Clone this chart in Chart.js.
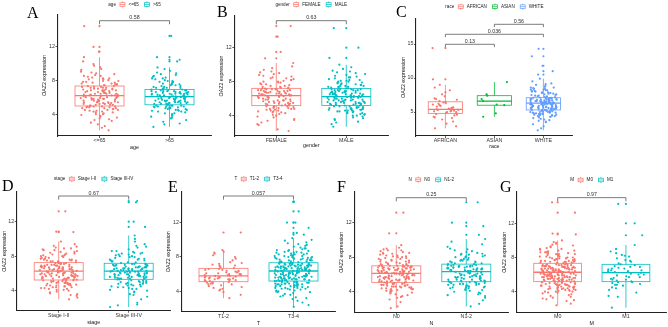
<!DOCTYPE html>
<html><head><meta charset="utf-8">
<script src="https://cdn.jsdelivr.net/npm/chart.js@4.4.1/dist/chart.umd.min.js"></script>
<style>
html,body{margin:0;padding:0;background:#fff;}
#wrap{position:relative;width:668px;height:327px;overflow:hidden;background:#fff;}
canvas{position:absolute;left:0;top:0;}
</style></head><body><div id="wrap"></div>
<script>
// ---------------- DATA ----------------
const yTicks = [4, 8, 12];
const raceYTicks = [5, 10, 15];

const ageCats = ['<=65', '>65'];
const ageLow = [2.2,2.5,2.9,3.1,3.3,3.5,3.6,3.8,3.9,4.0,4.1,4.2,4.3,4.3,4.4,4.5,4.5,4.6,4.6,4.7,4.7,4.8,4.8,4.8,4.9,4.9,4.9,5.0,5.0,5.0,5.0,3.4,4.1,4.4,4.6,2.7,3.7,
5.1,5.1,5.2,5.2,5.3,5.3,5.3,5.4,5.4,5.5,5.5,5.5,5.6,5.6,5.7,5.7,5.7,5.8,5.8,5.9,5.9,5.9,6.0,6.0,6.0,6.1,6.1,6.1,6.2,6.2,6.2,5.2,5.4,5.6,5.8,6.0,5.5,5.9,
6.3,6.3,6.4,6.4,6.4,6.5,6.5,6.5,6.6,6.6,6.7,6.7,6.7,6.8,6.8,6.9,6.9,6.9,7.0,7.0,7.1,7.1,7.1,7.2,7.2,7.3,7.3,7.4,7.4,6.3,6.6,6.8,7.0,7.2,6.5,6.9,7.3,
7.5,7.5,7.6,7.6,7.7,7.7,7.8,7.8,7.9,8.0,8.0,8.1,8.2,8.3,8.3,8.4,8.5,8.6,8.7,8.8,8.9,9.0,9.1,9.3,9.4,9.6,9.8,10.0,10.3,10.8,7.6,7.9,8.2,8.6,
11.45,12.0,14.45];
const ageHigh = [2.6,2.9,3.2,3.4,3.6,3.7,3.9,4.0,4.1,4.2,4.3,4.4,4.4,4.5,4.6,4.6,4.7,4.7,4.8,4.8,4.9,4.9,5.0,5.0,5.0,5.1,5.1,5.1,3.0,3.8,4.2,4.5,4.8,5.0,4.6,4.9,5.1,
5.2,5.2,5.3,5.3,5.3,5.4,5.4,5.4,5.5,5.5,5.5,5.6,5.6,5.6,5.7,5.7,5.7,5.8,5.8,5.8,5.9,5.9,5.9,6.0,6.0,6.0,6.1,6.1,6.1,5.3,5.5,5.7,5.9,6.0,5.4,5.6,5.8,6.1,
6.2,6.2,6.2,6.3,6.3,6.3,6.4,6.4,6.4,6.5,6.5,6.5,6.6,6.6,6.6,6.7,6.7,6.7,6.8,6.8,6.8,6.9,6.9,6.9,7.0,7.0,6.3,6.5,6.7,6.9,6.4,6.6,6.8,6.2,6.5,6.9,7.0,
7.1,7.1,7.2,7.2,7.3,7.3,7.4,7.5,7.5,7.6,7.7,7.8,7.9,8.0,8.1,8.2,8.3,8.4,8.5,8.6,8.8,8.9,9.0,9.2,9.4,9.6,7.2,7.4,7.7,8.0,8.3,8.7,7.6,7.9,
10.3,10.5,10.8,13.3];
const ageStats = [[2.2,5.06,6.27,7.41,10.8],[2.6,5.2,6.15,7.0,9.6]];
const agePv = ['0.58'];

const genderCats = ['FEMALE', 'MALE'];
const female = [2.2,2.4,2.9,3.2,3.4,3.6,3.8,3.9,4.0,4.2,4.3,4.4,4.5,4.5,4.6,4.7,4.7,4.8,4.8,4.9,4.9,5.0,5.0,5.1,5.1,3.5,4.1,4.6,4.9,5.1,4.4,4.8,3.0,
5.2,5.2,5.3,5.3,5.4,5.4,5.5,5.5,5.6,5.6,5.7,5.7,5.8,5.8,5.9,5.9,6.0,6.0,6.1,6.1,6.2,6.2,6.3,6.3,5.3,5.5,5.7,5.9,6.1,6.3,5.4,5.8,6.2,
6.4,6.4,6.4,6.5,6.5,6.6,6.6,6.7,6.7,6.8,6.8,6.9,6.9,7.0,7.0,7.1,7.1,7.2,7.2,6.5,6.7,6.9,7.1,6.4,6.6,6.8,7.0,7.2,6.6,6.9,7.1,6.5,6.8,
7.3,7.3,7.4,7.5,7.6,7.7,7.8,7.9,8.0,8.1,8.2,8.3,8.4,8.5,8.6,8.7,8.9,9.0,9.2,9.4,9.6,9.8,10.2,7.4,7.7,8.0,8.4,8.8,7.5,8.2,9.1,7.9,
10.75,11.5,13.3,14.55];
const male = [2.7,3.0,3.3,3.5,3.6,3.8,3.9,4.0,4.1,4.2,4.3,4.3,4.4,4.5,4.5,4.6,4.6,4.7,4.7,4.8,4.8,4.9,4.9,5.0,5.0,5.1,5.1,3.7,4.2,4.6,4.9,5.1,4.4,4.8,3.2,4.0,4.7,5.0,4.5,4.9,
5.2,5.2,5.3,5.3,5.3,5.4,5.4,5.5,5.5,5.5,5.6,5.6,5.7,5.7,5.8,5.8,5.8,5.9,5.9,6.0,6.0,6.1,6.1,6.2,6.2,5.3,5.5,5.7,5.9,6.1,5.4,5.6,5.8,6.0,6.2,5.5,5.9,6.1,5.6,
6.3,6.3,6.3,6.4,6.4,6.5,6.5,6.5,6.6,6.6,6.7,6.7,6.7,6.8,6.8,6.9,6.9,7.0,7.0,7.1,7.1,7.2,7.2,6.4,6.6,6.8,7.0,6.3,6.5,6.7,6.9,7.1,6.4,6.6,6.8,7.0,6.5,6.9,7.1,
7.3,7.3,7.4,7.4,7.5,7.5,7.6,7.7,7.8,7.9,8.0,8.0,8.1,8.2,8.3,8.4,8.5,8.6,8.7,8.8,9.0,9.1,9.3,9.5,9.7,10.0,7.4,7.6,7.9,8.2,8.5,8.9,7.5,7.8,8.1,9.2,7.7,
10.8,12.0,14.3];
const genderStats = [[2.2,5.18,6.35,7.22,10.2],[2.7,5.2,6.25,7.2,10.0]];
const genderPv = ['0.63'];

const raceCats = ['AFRICAN', 'ASIAN', 'WHITE'];
const african = [2.6,2.9,3.3,3.6,3.9,4.1,4.3,4.5,4.6,4.7,4.8,4.2,4.9,5.0,5.0,5.1,5.2,5.2,5.3,5.3,5.4,5.4,5.1,
5.5,5.6,5.7,5.8,5.9,6.0,6.1,6.2,6.3,6.4,6.5,5.6,6.6,6.8,7.0,7.3,7.6,7.9,8.2,8.6,9.0,6.9,9.8,14.4];
const asian = [9.4,7.6,7.4,6.9,6.6,6.1,6.0,4.8,4.3];
const white = [2.3,2.6,2.9,3.2,3.5,3.7,3.9,4.0,4.2,4.3,4.4,4.5,4.5,4.6,4.7,4.7,4.8,4.8,4.9,4.9,5.0,5.0,5.1,5.1,5.2,5.2,3.6,4.1,4.4,4.7,5.0,4.3,4.6,4.9,5.2,3.8,4.5,4.8,5.1,4.6,5.0,
5.3,5.3,5.4,5.4,5.5,5.5,5.6,5.6,5.7,5.7,5.8,5.8,5.9,5.9,6.0,6.0,6.1,6.1,6.2,6.2,5.4,5.6,5.8,6.0,6.2,5.3,5.5,5.7,5.9,6.1,5.4,5.7,6.0,5.5,5.8,6.1,5.6,5.9,6.2,5.3,5.7,
6.3,6.3,6.4,6.4,6.5,6.5,6.6,6.6,6.7,6.7,6.8,6.8,6.9,6.9,7.0,7.0,7.1,7.1,6.4,6.6,6.8,7.0,6.3,6.5,6.7,6.9,6.4,6.6,6.8,7.0,6.5,6.7,6.9,6.3,6.6,7.1,6.4,6.8,6.5,7.0,
7.2,7.2,7.3,7.4,7.5,7.6,7.7,7.8,7.9,8.0,8.1,8.2,8.3,8.4,8.5,8.6,8.8,9.0,9.2,9.5,9.9,7.3,7.6,7.9,8.2,8.6,7.4,7.8,8.1,8.4,9.1,7.5,8.0,8.7,7.7,8.3,
10.5,11.0,11.8,13.2,14.3];
const raceStats = [[2.6,4.8,5.4,6.5,9.0],[4.3,6.0,6.6,7.4,9.4],[2.3,5.3,6.3,7.1,9.9]];
const racePv = ['0.13', '0.036', '0.56'];

const stageCats = ['Stage I-II', 'Stage III-IV'];
const stage12 = [3.0,3.2,3.5,3.7,3.8,4.0,4.1,4.2,4.3,4.4,4.4,4.5,4.6,4.6,4.7,4.7,4.8,4.8,4.9,4.9,5.0,5.0,5.1,5.1,5.2,3.4,3.9,4.3,4.6,4.9,5.2,4.5,4.8,5.1,4.1,4.7,5.0,3.6,4.4,4.9,5.2,4.6,4.2,
5.3,5.3,5.3,5.4,5.4,5.5,5.5,5.5,5.6,5.6,5.7,5.7,5.7,5.8,5.8,5.9,5.9,6.0,6.0,6.0,6.1,6.1,6.2,6.2,6.2,5.4,5.6,5.8,6.0,6.2,5.3,5.5,5.7,5.9,6.1,5.4,5.6,5.8,6.0,5.5,5.9,6.1,5.7,
6.3,6.3,6.4,6.4,6.4,6.5,6.5,6.6,6.6,6.6,6.7,6.7,6.8,6.8,6.9,6.9,7.0,7.0,7.1,7.1,7.2,7.2,6.4,6.6,6.8,7.0,7.2,6.3,6.5,6.7,6.9,7.1,6.5,6.8,7.0,6.4,6.7,6.9,7.2,6.6,6.8,6.5,
7.3,7.3,7.4,7.4,7.5,7.5,7.6,7.7,7.7,7.8,7.9,8.0,8.1,8.2,8.3,8.4,8.5,8.6,8.7,8.8,8.9,9.0,9.2,9.4,9.7,7.4,7.6,7.8,8.0,8.2,8.5,8.9,7.5,7.9,8.3,9.1,7.6,8.1,8.7,
10.8,10.85,13.2];
const stage34 = [2.1,2.3,2.6,3.0,3.3,3.6,3.8,4.0,4.2,4.3,4.4,4.5,4.6,4.7,4.8,4.9,5.0,5.1,5.2,5.3,3.5,4.1,4.5,4.8,5.1,4.4,4.7,5.0,3.9,4.6,5.2,4.9,2.4,4.2,5.3,4.8,5.0,
5.4,5.4,5.5,5.5,5.6,5.6,5.7,5.7,5.8,5.8,5.9,5.9,6.0,6.0,6.1,6.1,6.2,6.2,5.5,5.7,5.9,6.1,5.4,5.6,5.8,6.0,6.2,5.5,5.7,5.9,6.0,5.6,5.8,6.1,5.4,5.9,6.2,
6.3,6.3,6.4,6.4,6.5,6.5,6.6,6.6,6.7,6.7,6.8,6.8,6.9,6.9,7.0,7.0,7.1,7.1,6.4,6.6,6.8,7.0,6.3,6.5,6.7,6.9,7.1,6.4,6.6,6.8,6.5,6.9,7.0,6.7,6.3,6.6,
7.2,7.3,7.3,7.4,7.5,7.6,7.7,7.8,7.9,8.0,8.1,8.2,8.3,8.4,8.5,8.6,8.8,9.0,9.2,9.4,9.7,10.0,10.4,7.4,7.6,7.9,8.2,8.6,7.5,8.0,8.4,9.1,7.7,8.3,
11.4,12.0,14.25,14.4];
const stageStats = [[3.0,5.24,6.28,7.25,9.7],[2.1,5.32,6.28,7.18,10.4]];
const stagePv = ['0.67'];

const tCats = ['T1-2', 'T3-4'];
const t12 = [3.2,3.6,3.9,4.1,4.3,4.4,4.6,4.7,4.8,4.9,5.0,5.0,5.1,5.1,4.5,4.9,4.2,4.8,
5.2,5.2,5.3,5.3,5.4,5.4,5.5,5.5,5.6,5.6,5.7,5.7,5.8,5.3,5.5,5.7,5.4,5.6,5.2,
5.8,5.9,5.9,6.0,6.0,6.1,6.1,6.2,6.3,6.3,6.4,6.5,6.5,6.6,6.6,5.9,6.2,6.4,6.0,
6.7,6.8,6.9,7.0,7.1,7.2,7.4,7.6,7.8,8.0,8.2,8.4,8.5,8.6,8.8,7.0,7.3,
10.85];
const t34 = [2.2,2.4,2.7,2.9,3.1,3.3,3.4,3.6,3.7,3.8,3.9,4.0,4.0,4.1,4.2,4.2,4.3,4.3,4.4,4.4,4.5,4.5,4.6,4.6,4.7,4.7,4.7,4.8,4.8,4.8,4.9,4.9,4.9,5.0,5.0,5.0,5.1,5.1,5.1,3.5,3.9,4.1,4.4,4.6,4.8,5.0,4.3,4.6,4.9,5.1,3.2,4.5,4.8,5.0,4.7,
5.2,5.2,5.2,5.3,5.3,5.3,5.4,5.4,5.4,5.5,5.5,5.5,5.6,5.6,5.6,5.7,5.7,5.7,5.8,5.8,5.8,5.9,5.9,5.9,6.0,6.0,6.0,6.1,6.1,6.1,6.2,6.2,6.2,6.3,6.3,5.3,5.5,5.7,5.9,6.1,6.3,5.4,5.6,5.8,6.0,6.2,5.2,5.5,5.8,6.1,5.6,5.9,6.0,5.4,5.7,6.2,5.3,
6.4,6.4,6.4,6.5,6.5,6.5,6.6,6.6,6.6,6.7,6.7,6.7,6.8,6.8,6.8,6.9,6.9,6.9,7.0,7.0,7.0,7.1,7.1,7.1,7.2,7.2,7.2,7.3,7.3,6.4,6.6,6.8,7.0,7.2,6.5,6.7,6.9,7.1,7.3,6.4,6.6,6.8,7.0,6.5,6.9,7.2,6.7,6.6,7.0,6.8,6.4,7.1,6.5,6.9,7.3,6.7,7.0,
7.4,7.4,7.5,7.5,7.6,7.6,7.7,7.7,7.8,7.8,7.9,7.9,8.0,8.0,8.1,8.1,8.2,8.3,8.3,8.4,8.5,8.5,8.6,8.7,8.8,8.9,9.0,9.1,9.2,9.3,9.5,9.7,9.9,10.2,7.5,7.7,7.9,8.1,8.4,8.7,9.0,7.6,7.8,8.2,8.6,9.4,7.4,8.0,8.8,7.7,8.3,9.6,7.9,8.5,10.0,
10.6,10.8,11.4,12.0,12.0,13.3,14.4,14.45];
const tStats = [[3.2,5.12,5.79,6.68,8.8],[2.2,5.2,6.37,7.33,10.2]];
const tPv = ['0.057'];

const nCats = ['N0', 'N1-2'];
const n0 = [2.1,2.3,2.8,3.1,3.3,3.5,3.7,3.8,3.9,4.0,4.1,4.2,4.3,4.3,4.4,4.4,4.5,4.5,4.6,4.6,4.7,4.7,4.8,4.8,4.9,4.9,5.0,5.0,3.6,4.1,4.4,4.7,4.9,4.2,4.6,5.0,3.9,4.5,4.8,3.4,4.3,4.9,4.6,5.0,4.8,
5.1,5.1,5.2,5.2,5.3,5.3,5.4,5.4,5.5,5.5,5.6,5.6,5.7,5.7,5.8,5.8,5.9,5.9,6.0,6.0,6.1,6.1,5.2,5.4,5.6,5.8,6.0,5.1,5.3,5.5,5.7,5.9,6.1,5.4,5.7,6.0,5.2,5.6,5.9,5.3,5.8,6.1,5.5,5.7,6.0,
6.2,6.2,6.2,6.3,6.3,6.4,6.4,6.5,6.5,6.6,6.6,6.7,6.7,6.8,6.8,6.9,6.9,7.0,7.0,6.3,6.5,6.7,6.9,6.2,6.4,6.6,6.8,7.0,6.3,6.5,6.7,6.9,6.4,6.6,6.8,6.2,6.5,6.9,6.3,6.7,6.4,6.6,6.8,7.0,
7.1,7.1,7.2,7.2,7.3,7.4,7.4,7.5,7.6,7.7,7.8,7.9,8.0,8.1,8.2,8.3,8.4,8.5,8.6,8.7,8.8,8.9,9.1,9.4,7.2,7.5,7.8,8.1,8.4,8.8,7.3,7.6,8.0,8.5,7.1,7.7,8.2,9.0,7.4,7.9,
10.77,13.16];
const n12 = [2.3,2.6,3.0,3.3,3.5,3.7,3.9,4.0,4.1,4.2,4.3,4.4,4.5,4.5,4.6,4.7,4.7,4.8,4.8,4.9,4.9,5.0,5.0,5.1,5.1,3.6,4.2,4.6,4.9,4.4,4.8,5.0,3.8,4.5,5.1,
5.2,5.2,5.3,5.3,5.4,5.4,5.5,5.5,5.6,5.6,5.7,5.7,5.8,5.8,5.9,5.9,6.0,6.0,6.1,6.1,6.2,6.2,6.3,5.3,5.5,5.7,5.9,6.1,5.4,5.6,5.8,6.0,5.2,5.7,6.2,
6.4,6.4,6.5,6.5,6.6,6.6,6.7,6.7,6.8,6.8,6.9,6.9,7.0,7.0,7.1,7.1,7.2,6.4,6.6,6.8,7.0,6.5,6.7,6.9,7.1,6.6,6.8,6.5,7.0,6.7,6.4,6.9,7.2,
7.3,7.3,7.4,7.5,7.6,7.7,7.8,7.9,8.0,8.1,8.2,8.3,8.4,8.5,8.6,8.8,9.0,9.2,9.5,9.8,10.1,7.4,7.7,8.0,8.3,8.7,7.5,8.1,8.9,7.6,8.4,
10.6,11.6,12.0,14.37];
const nStats = [[2.1,5.09,6.13,7.0,9.4],[2.3,5.16,6.32,7.2,10.1]];
const nPv = ['0.25'];

const mCats = ['M0', 'M1'];
const m0 = [2.4,2.6,2.9,3.1,3.2,3.4,3.5,3.7,3.8,3.9,4.0,4.0,4.1,4.2,4.2,4.3,4.3,4.4,4.4,4.5,4.5,4.6,4.6,4.6,4.7,4.7,4.8,4.8,4.8,4.9,4.9,5.0,5.0,5.0,5.1,5.1,3.6,3.9,4.1,4.3,4.5,4.7,4.9,5.1,4.2,4.4,4.6,4.8,5.0,3.3,4.0,4.5,4.9,4.7,5.1,3.0,4.3,4.8,
5.2,5.2,5.2,5.3,5.3,5.3,5.4,5.4,5.4,5.5,5.5,5.5,5.6,5.6,5.6,5.7,5.7,5.7,5.8,5.8,5.8,5.9,5.9,5.9,6.0,6.0,6.0,6.1,6.1,6.1,6.2,6.2,6.2,5.3,5.5,5.7,5.9,6.1,5.4,5.6,5.8,6.0,6.2,5.2,5.5,5.8,6.1,5.3,5.6,5.9,5.4,5.7,6.0,5.5,5.8,6.1,5.6,5.9,
6.3,6.3,6.3,6.4,6.4,6.4,6.5,6.5,6.5,6.6,6.6,6.6,6.7,6.7,6.7,6.8,6.8,6.8,6.9,6.9,6.9,7.0,7.0,7.0,7.1,7.1,7.1,7.2,7.2,7.3,7.3,6.4,6.6,6.8,7.0,7.2,6.3,6.5,6.7,6.9,7.1,6.4,6.6,6.8,7.0,6.5,6.7,6.9,6.3,6.6,7.2,6.8,6.5,7.0,6.7,7.1,6.4,6.9,
7.4,7.4,7.5,7.5,7.6,7.6,7.7,7.7,7.8,7.8,7.9,7.9,8.0,8.0,8.1,8.2,8.2,8.3,8.4,8.5,8.5,8.6,8.7,8.8,8.9,9.0,9.1,9.2,9.4,9.6,9.8,10.0,7.5,7.7,7.9,8.1,8.4,8.7,9.0,9.3,7.6,7.8,8.3,8.6,7.4,8.0,8.8,7.6,8.4,9.5,7.9,8.1,8.6,7.5,9.7,
10.7,10.8,13.24,14.45];
const m1 = [2.13,3.4,3.5,3.9,4.2,4.5,4.7,4.8,4.9,5.0,5.1,5.1,4.4,4.8,
5.2,5.3,5.4,5.5,5.6,5.7,5.8,5.9,6.0,6.1,6.2,5.4,5.7,6.0,
6.3,6.4,6.5,6.6,6.7,6.8,6.9,7.0,7.1,7.2,6.4,6.7,6.9,6.5,
7.3,7.5,7.7,7.9,8.1,8.3,8.5,8.7,9.0,9.46,7.6,8.2,
10.6,12.0,14.26];
const mStats = [[2.4,5.17,6.27,7.32,10.0],[2.13,5.17,6.22,7.2,9.46]];
const mPv = ['0.97'];

// ---------------- STYLE / LAYOUT ----------------
const RED = '#F8766D', CYAN = '#00BFC4', GREEN = '#00BA38', BLUE = '#619CFF';
const SANS = '"Liberation Sans", Arial, sans-serif';
const SERIF = '"Liberation Serif", "DejaVu Serif", serif';
const W = 668, H = 327;
const FS = 5.3, LH = FS * 1.2, LEGFS = 4.6;
const YW = 15.7, TL = 2, PR = 1.1, JW = 0.27, BOXW = 0.7;
const yTitle = 'OAZ2 expression';

const panels = [
  {letter:'A', lx:27, ly:18, l:57.5, r:211.5, t:15, b:136, tickY:141, titleY:148, yMin:1.53, yMax:15.76, ticks:yTicks,
   legTitle:'age', legY:4.5, cats:ageCats, groups:[ageLow, ageHigh], stats:ageStats, colors:[RED, CYAN],
   brackets:[[1, 2, 15.09, agePv[0]]], xTitle:'age'},
  {letter:'B', lx:217, ly:17, l:234.3, r:388.3, t:16, b:136, tickY:140.7, titleY:145.7, yMin:1.61, yMax:15.73, ticks:yTicks,
   legTitle:'gender', legY:4.5, cats:genderCats, groups:[female, male], stats:genderStats, colors:[RED, CYAN],
   brackets:[[1, 2, 15.18, genderPv[0]]], xTitle:'gender'},
  {letter:'C', lx:396, ly:17, l:416, r:572.8, t:19, b:136, tickY:141, titleY:146.7, yMin:1.47, yMax:18.68, ticks:raceYTicks,
   legTitle:'race', legY:6.7, cats:raceCats, groups:[african, asian, white], stats:raceStats, colors:[RED, GREEN, BLUE],
   brackets:[[1, 2, 14.96, racePv[0]], [1, 3, 16.43, racePv[1]], [2, 3, 17.9, racePv[2]]], xTitle:'race'},
  {letter:'D', lx:2, ly:190.5, l:16.7, r:170.7, t:191.7, b:310.7, tickY:316, titleY:322.3, yMin:1.68, yMax:15.48, ticks:yTicks,
   legTitle:'stage', legY:179, cats:stageCats, groups:[stage12, stage34], stats:stageStats, colors:[RED, CYAN],
   brackets:[[1, 2, 14.98, stagePv[0]]], xTitle:'stage'},
  {letter:'E', lx:168, ly:192, l:181.5, r:335.5, t:191.7, b:311.7, tickY:316.7, titleY:323.3, yMin:1.63, yMax:15.6, ticks:yTicks,
   legTitle:'T', legY:179, cats:tCats, groups:[t12, t34], stats:tStats, colors:[RED, CYAN],
   brackets:[[1, 2, 15.1, tPv[0]]], xTitle:'T'},
  {letter:'F', lx:337, ly:192, l:354.3, r:508.3, t:192, b:312.7, tickY:316.7, titleY:323.3, yMin:1.57, yMax:15.56, ticks:yTicks,
   legTitle:'N', legY:179.7, cats:nCats, groups:[n0, n12], stats:nStats, colors:[RED, CYAN],
   brackets:[[1, 2, 14.9, nPv[0]]], xTitle:'N'},
  {letter:'G', lx:500, ly:192, l:516.7, r:668, t:192, b:312.7, tickY:316.7, titleY:323.3, yMin:1.54, yMax:15.66, ticks:yTicks,
   legTitle:'M', legY:180, cats:mCats, groups:[m0, m1], stats:mStats, colors:[RED, CYAN],
   brackets:[[1, 2, 15.0, mPv[0]]], xTitle:'M'}
];

function jit(i, g) {
  const s = Math.sin((i + 1) * 12.9898 + (g + 1) * 78.233) * 43758.5453;
  return (s - Math.floor(s)) * 2 - 1;
}

function makePlugin(p) {
  return {
    id: 'boxes' + p.letter,
    beforeDatasetsDraw(chart) {
      const ctx = chart.ctx, xs = chart.scales.x, ys = chart.scales.y;
      ctx.save();
      p.stats.forEach((st, gi) => {
        const [lo, q1, md, q3, hi] = st;
        const cx = xs.getPixelForValue(gi + 1);
        const hw = xs.getPixelForValue(gi + 1 + BOXW / 2) - cx;
        const yq1 = ys.getPixelForValue(q1), yq3 = ys.getPixelForValue(q3);
        ctx.strokeStyle = p.colors[gi];
        ctx.lineWidth = 0.8;
        ctx.beginPath();
        ctx.moveTo(cx, yq3); ctx.lineTo(cx, ys.getPixelForValue(hi));
        ctx.moveTo(cx, yq1); ctx.lineTo(cx, ys.getPixelForValue(lo));
        ctx.stroke();
        ctx.strokeRect(cx - hw, yq3, 2 * hw, yq1 - yq3);
        ctx.lineWidth = 1.3;
        ctx.beginPath();
        const ym = ys.getPixelForValue(md);
        ctx.moveTo(cx - hw, ym); ctx.lineTo(cx + hw, ym);
        ctx.stroke();
      });
      ctx.restore();
    },
    afterDraw(chart) {
      const ctx = chart.ctx, xs = chart.scales.x, ys = chart.scales.y;
      ctx.save();
      // brackets
      ctx.strokeStyle = '#444'; ctx.lineWidth = 0.7;
      ctx.fillStyle = '#333'; ctx.font = FS + 'px ' + SANS;
      ctx.textAlign = 'center'; ctx.textBaseline = 'alphabetic';
      p.brackets.forEach(([a, b, yv, txt]) => {
        const x1 = xs.getPixelForValue(a), x2 = xs.getPixelForValue(b);
        const y = ys.getPixelForValue(yv), yt = ys.getPixelForValue(yv - 0.42);
        ctx.beginPath();
        ctx.moveTo(x1, yt); ctx.lineTo(x1, y); ctx.lineTo(x2, y); ctx.lineTo(x2, yt);
        ctx.stroke();
        ctx.fillText(txt, (x1 + x2) / 2, y - 1.3);
      });
      // legend
      ctx.font = LEGFS + 'px ' + SANS;
      ctx.textAlign = 'left'; ctx.textBaseline = 'middle';
      const iconW = 6;
      let total = ctx.measureText(p.legTitle).width + 3.5;
      p.cats.forEach((c, i) => { total += iconW + 3 + ctx.measureText(c).width + (i < p.cats.length - 1 ? 5 : 0); });
      let x = (chart.chartArea.left + chart.chartArea.right) / 2 - total / 2;
      const cy = p.legY;
      ctx.fillStyle = '#222';
      ctx.fillText(p.legTitle, x, cy);
      x += ctx.measureText(p.legTitle).width + 3.5;
      p.cats.forEach((c, i) => {
        ctx.strokeStyle = p.colors[i]; ctx.lineWidth = 0.7;
        ctx.strokeRect(x + 0.5, cy - 1.8, iconW - 1, 3.6);
        ctx.beginPath();
        ctx.moveTo(x + 0.5, cy); ctx.lineTo(x + iconW - 0.5, cy);
        ctx.moveTo(x + iconW / 2, cy - 3.1); ctx.lineTo(x + iconW / 2, cy - 1.8);
        ctx.moveTo(x + iconW / 2, cy + 1.8); ctx.lineTo(x + iconW / 2, cy + 3.1);
        ctx.stroke();
        x += iconW + 3;
        ctx.fillStyle = '#222';
        ctx.fillText(c, x, cy);
        x += ctx.measureText(c).width + 5;
      });
      // panel letter
      ctx.font = '16px ' + SERIF;
      ctx.fillStyle = '#000'; ctx.textBaseline = 'alphabetic';
      ctx.fillText(p.letter, p.lx, p.ly);
      ctx.restore();
    }
  };
}

const wrap = document.getElementById('wrap');
panels.forEach((p, pi) => {
  const cv = document.createElement('canvas');
  cv.width = W; cv.height = H;
  cv.style.width = W + 'px'; cv.style.height = H + 'px';
  wrap.appendChild(cv);
  const n = p.cats.length;
  const XH = p.titleY - p.b + LH / 2;
  const tickPad = p.tickY - p.b - TL - LH / 2;
  const datasets = [];
  p.groups.forEach((vals, gi) => {
    const c = p.colors[gi];
    const lo = p.stats[gi][0], hi = p.stats[gi][4];
    datasets.push({
      data: vals.filter(v => v < lo || v > hi).map(v => ({x: gi + 1, y: v})),
      backgroundColor: c, borderWidth: 0, pointRadius: PR, pointHoverRadius: PR
    });
    datasets.push({
      data: vals.map((v, i) => ({x: gi + 1 + JW * jit(i, gi + pi * 3), y: v})),
      backgroundColor: c, borderWidth: 0, pointRadius: PR, pointHoverRadius: PR
    });
  });
  const tickFont = {family: SANS, size: FS, lineHeight: 1.2};
  new Chart(cv, {
    type: 'scatter',
    data: {datasets},
    options: {
      responsive: false, animation: false, events: [],
      layout: {padding: {left: p.l - YW, right: W - p.r, top: p.t, bottom: H - p.b - XH}},
      plugins: {legend: {display: false}, tooltip: {enabled: false}},
      scales: {
        x: {
          type: 'linear', min: 0.4, max: n + 0.6,
          afterFit: s => { s.height = XH; },
          afterBuildTicks: s => { s.ticks = p.cats.map((c, i) => ({value: i + 1})); },
          ticks: {callback: (v, i) => p.cats[i], font: tickFont, color: '#333', padding: tickPad,
                  maxRotation: 0, minRotation: 0, autoSkip: false},
          grid: {display: true, drawOnChartArea: false, drawTicks: true, tickLength: TL, tickColor: '#333', lineWidth: 0.8},
          border: {display: true, color: '#222', width: 1.1},
          title: {display: true, text: p.xTitle, font: tickFont, color: '#111', padding: 0}
        },
        y: {
          type: 'linear', min: p.yMin, max: p.yMax,
          afterFit: s => { s.width = YW; },
          afterBuildTicks: s => { s.ticks = p.ticks.map(v => ({value: v})); },
          ticks: {font: tickFont, color: '#333', padding: 0.5},
          grid: {display: true, drawOnChartArea: false, drawTicks: true, tickLength: TL, tickColor: '#333', lineWidth: 0.8},
          border: {display: true, color: '#222', width: 1.1},
          title: {display: true, text: yTitle, font: tickFont, color: '#111', padding: 0}
        }
      }
    },
    plugins: [makePlugin(p)]
  });
});
</script>
</body></html>
